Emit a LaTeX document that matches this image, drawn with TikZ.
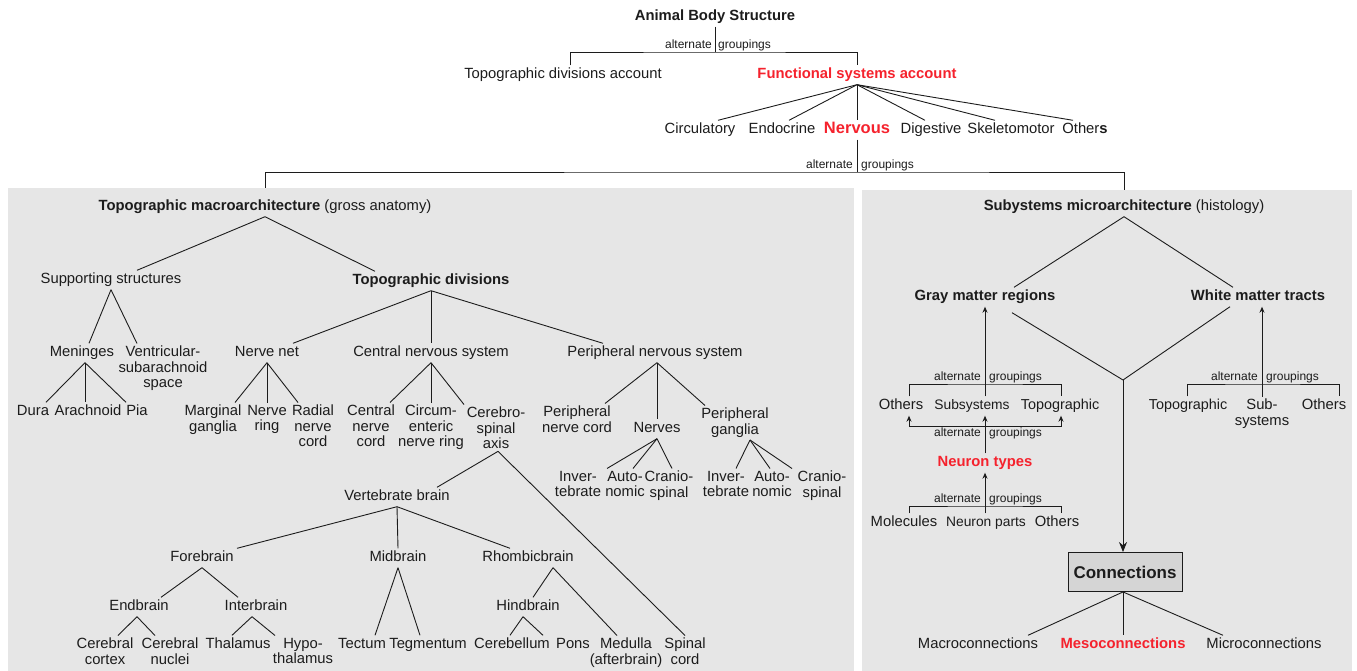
\documentclass[tikz,border=0pt]{standalone}
\usepackage{fontspec}
\setmainfont{Liberation Sans}
\usepackage{tikz}
\usetikzlibrary{arrows.meta,positioning}
\definecolor{Ink}{HTML}{1C1C1C}
\definecolor{Alert}{HTML}{F5222D}
\definecolor{Panel}{HTML}{E6E6E6}
\definecolor{BoxFill}{HTML}{D5D5D5}
\tikzset{
  lab/.style={inner sep=2.5pt,text height=10.8pt,text depth=3.2pt,text=Ink,font=\fontsize{14.8}{15.3}\selectfont},
  labS/.style={lab,font=\fontsize{13.8}{15.3}\selectfont},
  labM/.style={lab,font=\fontsize{14.4}{15.3}\selectfont},
  labB/.style={lab,font=\fontsize{14.8}{15.3}\selectfont\bfseries},
  labR/.style={labB,text=Alert},
  multi/.style={inner sep=2.5pt,align=center,anchor=north,text=Ink,font=\fontsize{14.8}{15.3}\selectfont},
  tiny/.style={inner sep=1pt,text height=9pt,text depth=2.6pt,text=Ink,font=\fontsize{12}{13}\selectfont},
  edge/.style={draw=Ink,line width=0.9pt},
  upArrow/.style={edge,-{Stealth[length=6pt,width=5pt]}},
  bigArrow/.style={edge,-{Stealth[length=10pt,width=8pt]}},
  panel/.style={fill=Panel,draw=none,inner sep=0pt,anchor=north west},
  connBox/.style={draw=Ink,line width=0.9pt,fill=BoxFill,minimum width=114pt,minimum height=39pt,font=\fontsize{17}{18}\selectfont\bfseries,text=Ink}
}

\begin{document}
\begin{tikzpicture}[x=1pt,y=-1pt]
\useasboundingbox (0,0) rectangle (1357,671);
% gray panels
\node[panel,minimum width=846pt,minimum height=483pt] (panL) at (8,188) {};
\node[panel,minimum width=490pt,minimum height=481pt] (panR) at (862,190) {};

% top of the hierarchy
\node[labB] (abs) at (715,17) {Animal Body Structure};
\node[lab] (tda) at (563,75) {Topographic divisions account};
\node[labR] (fsa) at (857,75) {Functional systems account};
\coordinate (brA) at (715,52);
\node[tiny,anchor=south east] (altA) at ([xshift=-2]brA) {alternate};
\node[tiny,anchor=south west] (grpA) at ([xshift=2]brA) {groupings};
\draw[edge] (abs.south) -- (brA);
\draw[edge] ([xshift=7]tda.north) |- (brA) -| (fsa.north);

\node[lab] (circu) at (700,130) {Circulatory};
\node[lab] (endo) at (782,130) {Endocrine};
\node[labR,font=\fontsize{16.5}{17}\selectfont\bfseries] (nerv) at (857,130) {Nervous};
\node[lab] (dige) at (931,130) {Digestive};
\node[lab] (skel) at (1011,130) {Skeletomotor};
\node[lab] (oth) at (1085,130) {Other\textbf{s}};
\draw[edge] (fsa.south) -- ([xshift=18]circu.north);\draw[edge] (fsa.south) -- ([xshift=7]endo.north);\draw[edge] (fsa.south) -- (nerv.north);
\draw[edge] (fsa.south) -- ([xshift=-6]dige.north);\draw[edge] (fsa.south) -- ([xshift=-16]skel.north);\draw[edge] (fsa.south) -- ([xshift=-12]oth.north);

\coordinate (brB) at (857,172);
\node[tiny,anchor=south east] (altB) at ([xshift=-3]brB) {alternate};
\node[tiny,anchor=south west] (grpB) at ([xshift=3]brB) {groupings};
\node[lab] (tma) at (265,207) {\textbf{Topographic macroarchitecture} (gross anatomy)};
\node[lab] (sma) at (1124,207) {\textbf{Subystems microarchitecture} (histology)};
\draw[edge] (nerv.south) -- (brB);
\draw[edge] (tma.north |- panL.north) |- (brB) -| (sma.north |- panR.north);

% left panel: gross anatomy
\node[lab] (sup) at (111,280) {Supporting structures};
\node[labB] (tdv) at (431,281) {Topographic divisions};
\draw[edge] (tma.south) -- ([xshift=26]sup.north);\draw[edge] (tma.south) -- ([xshift=-56]tdv.north);

\node[lab] (men) at (82,353) {Meninges};
\node[multi] (ven) at (163,343.5) {Ventricular-\\subarachnoid\\space};
\draw[edge] (sup.south) -- ([xshift=7]men.north);\draw[edge] (sup.south) -- ([xshift=-26]ven.north);
\node[lab] (dura) at (33,412) {Dura};
\node[lab] (arach) at (88,412) {Arachnoid};
\node[lab] (pia) at (137,412) {Pia};
\draw[edge] ([xshift=3]men.south) -- ([xshift=13]dura.north);\draw[edge] ([xshift=3]men.south) -- ([xshift=-3]arach.north);\draw[edge] ([xshift=3]men.south) -- ([xshift=-11]pia.north);

\node[lab] (nnet) at (267,353) {Nerve net};
\node[lab] (cns) at (431,353) {Central nervous system};
\node[lab] (pns) at (655,353) {Peripheral nervous system};
\draw[edge] (tdv.south) -- ([xshift=26]nnet.north);\draw[edge] (tdv.south) -- (cns.north);\draw[edge] (tdv.south) -- ([xshift=-52]pns.north);

\node[multi] (marg) at (213,402.5) {Marginal\\ganglia};
\node[multi] (nring) at (267,402.5) {Nerve\\ring};
\node[multi] (radial) at (313,402.5) {Radial\\nerve\\cord};
\draw[edge] (nnet.south) -- ([xshift=22]marg.north);\draw[edge] (nnet.south) -- (nring.north);\draw[edge] (nnet.south) -- ([xshift=-15]radial.north);

\node[multi] (ccord) at (371,402.5) {Central\\nerve\\cord};
\node[multi] (circ) at (431,402.5) {Circum-\\enteric\\nerve ring};
\node[multi] (cereb) at (496,404.5) {Cerebro-\\spinal\\axis};
\draw[edge] (cns.south) -- ([xshift=19]ccord.north);\draw[edge] (cns.south) -- (circ.north);\draw[edge] (cns.south) -- ([xshift=-32]cereb.north);

\node[multi] (pcord) at (577,403.5) {Peripheral\\nerve cord};
\node[lab] (nerves) at (657,429) {Nerves};
\node[multi] (pgang) at (735,405.5) {Peripheral\\ganglia};
\draw[edge] ([xshift=2]pns.south) -- ([xshift=28]pcord.north);\draw[edge] ([xshift=2]pns.south) -- (nerves.north);\draw[edge] ([xshift=2]pns.south) -- ([xshift=-30]pgang.north);

\node[multi] (ninv) at (578,468.5) {Inver-\\tebrate};
\node[multi] (naut) at (625,468.5) {Auto-\\nomic};
\node[multi] (ncran) at (669,468.5) {Cranio-\\spinal};
\draw[edge] (nerves.south) -- ([xshift=29]ninv.north);\draw[edge] (nerves.south) -- ([xshift=8]naut.north);\draw[edge] (nerves.south) -- ([xshift=3]ncran.north);
\node[multi] (ginv) at (726,468.5) {Inver-\\tebrate};
\node[multi] (gaut) at (772,468.5) {Auto-\\nomic};
\node[multi] (gcran) at (822,468.5) {Cranio-\\spinal};
\draw[edge] ([xshift=15]pgang.south) -- ([xshift=10]ginv.north);\draw[edge] ([xshift=15]pgang.south) -- ([xshift=-2]gaut.north);\draw[edge] ([xshift=15]pgang.south) -- ([xshift=-30]gcran.north);

\node[lab] (vbr) at (397,497) {Vertebrate brain};
\node[multi] (spinal) at (685,635.5) {Spinal\\cord};
\draw[edge] ([xshift=2]cereb.south) -- ([xshift=40]vbr.north);\draw[edge] ([xshift=2]cereb.south) -- (spinal.north);

\node[lab] (fore) at (202,558) {Forebrain};
\node[lab] (mid) at (398,558) {Midbrain};
\node[lab] (rhomb) at (528,558) {Rhombicbrain};
\draw[edge] (vbr.south) -- ([xshift=35]fore.north);\draw[edge] (vbr.south) -- (mid.north);\draw[edge] (vbr.south) -- ([xshift=-18]rhomb.north);

\node[lab] (endb) at (139,607) {Endbrain};
\node[lab] (interb) at (256,607) {Interbrain};
\draw[edge] (fore.south) -- ([xshift=22]endb.north);\draw[edge] (fore.south) -- ([xshift=-18]interb.north);
\node[multi] (ccort) at (105,635.5) {Cerebral\\cortex};
\node[multi] (cnuc) at (170,635.5) {Cerebral\\nuclei};
\draw[edge] ([xshift=-2]endb.south) -- ([xshift=13]ccort.north);\draw[edge] ([xshift=-2]endb.south) -- ([xshift=-15]cnuc.north);
\node[lab] (thal) at (238,645) {Thalamus};
\node[multi] (hypo) at (303,635.5) {Hypo-\\thalamus};
\draw[edge] ([xshift=-4]interb.south) -- ([xshift=-6]thal.north);\draw[edge] ([xshift=-4]interb.south) -- ([xshift=-28]hypo.north);

\node[lab] (tect) at (362,645) {Tectum};
\node[lab] (tegm) at (428,645) {Tegmentum};
\draw[edge] (mid.south) -- ([xshift=13]tect.north);\draw[edge] (mid.south) -- ([xshift=-8]tegm.north);

\node[lab] (hind) at (528,607) {Hindbrain};
\node[multi] (medul) at (626,635.5) {Medulla\\(afterbrain)};
\draw[edge] ([xshift=25]rhomb.south) -- ([xshift=5]hind.north);\draw[edge] ([xshift=25]rhomb.south) -- ([xshift=-9]medul.north);
\node[lab] (cbell) at (512,645) {Cerebellum};
\node[lab] (pons) at (573,645) {Pons};
\draw[edge] ([xshift=-5]hind.south) -- ([xshift=-2]cbell.north);\draw[edge] ([xshift=-5]hind.south) -- ([xshift=-30]pons.north);

% right panel: histology
\node[labB] (gmr) at (985,297) {Gray matter regions};
\node[labB] (wmt) at (1258,297) {White matter tracts};
\draw[edge] (sma.south) -- ([xshift=29]gmr.north);\draw[edge] (sma.south) -- ([xshift=-25]wmt.north);
\coordinate (jn) at (1123,380);
\draw[edge] ([xshift=27,yshift=-6]gmr.south) -- (jn);\draw[edge] ([xshift=-28]wmt.south) -- (jn);

\node[lab] (oth1) at (901,406) {Others};
\node[labS] (sub1) at (972,406) {Subsystems};
\node[labM] (topo1) at (1060,406) {Topographic};
\coordinate (brC) at (985,384);
\node[tiny,anchor=south east] (altC) at ([xshift=-3]brC) {alternate};
\node[tiny,anchor=south west] (grpC) at ([xshift=3]brC) {groupings};
\draw[edge] ([xshift=8]oth1.north) |- (brC) -| ([xshift=1]topo1.north);
\draw[upArrow] ([xshift=13]sub1.north) -- ([xshift=13]sub1.north |- gmr.south);

\coordinate (brD) at (985,426);
\node[tiny,anchor=north east] (altD) at ([xshift=-3]brD) {alternate};
\node[tiny,anchor=north west] (grpD) at ([xshift=3]brD) {groupings};
\node[labR] (nt) at (985,463) {Neuron types};
\draw[upArrow] (brD) -| ([xshift=8]oth1.south);\draw[upArrow] (brD) -| ([xshift=1]topo1.south);
\draw[upArrow] (nt.north) -- (nt.north |- sub1.south);

\node[lab] (mol) at (904,523) {Molecules};
\node[labS] (npart) at (986,523) {Neuron parts};
\node[lab] (oth3) at (1057,523) {Others};
\coordinate (brE) at (985,506);
\node[tiny,anchor=south east] (altE) at ([xshift=-3]brE) {alternate};
\node[tiny,anchor=south west] (grpE) at ([xshift=3]brE) {groupings};
\draw[edge] ([xshift=5]mol.north) |- (brE) -| ([xshift=4]oth3.north);
\draw[upArrow] ([xshift=-1]npart.north) -- (nt.south);

\node[labM] (topo2) at (1188,406) {Topographic};
\node[multi] (sub2) at (1262,396.5) {Sub-\\systems};
\node[lab] (oth2) at (1324,406) {Others};
\coordinate (brF) at (1262,384);
\node[tiny,anchor=south east] (altF) at ([xshift=-3]brF) {alternate};
\node[tiny,anchor=south west] (grpF) at ([xshift=3]brF) {groupings};
\draw[edge] ([xshift=-1]topo2.north) |- (brF) -| ([xshift=15]oth2.north);
\draw[upArrow] (sub2.north) -- (sub2.north |- wmt.south);

\node[connBox] (conn) at (1125,572) {Connections};
\draw[bigArrow] (jn) -- (jn |- conn.north);
\node[lab] (mac) at (978,645) {Macroconnections};
\node[labR] (meso) at (1123,645) {Mesoconnections};
\node[lab] (mic) at (1264,645) {Microconnections};
\draw[edge] ([xshift=-2]conn.south) -- ([xshift=50]mac.north);\draw[edge] ([xshift=-2]conn.south) -- (meso.north);\draw[edge] ([xshift=-2]conn.south) -- ([xshift=-41]mic.north);
\end{tikzpicture}
\end{document}
